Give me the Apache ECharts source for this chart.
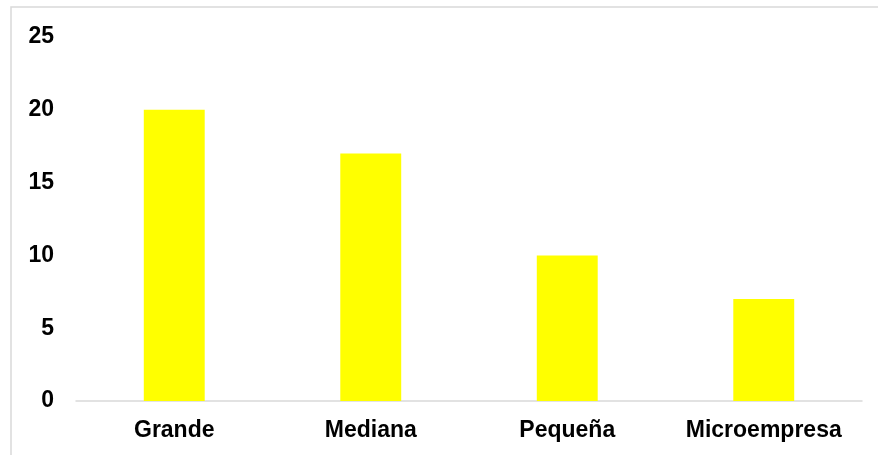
<!DOCTYPE html>
<html>
<head>
<meta charset="utf-8">
<script src="https://cdn.jsdelivr.net/npm/echarts@6/dist/echarts.min.js"></script>
<style>
  html, body { margin: 0; padding: 0; background: #fff; }
  #chart { width: 878px; height: 455px; }
</style>
</head>
<body>
<div id="chart"></div>
<script>
// Company size categories and their counts
const categories = ['Grande', 'Mediana', 'Pequeña', 'Microempresa'];
const counts = [20, 17, 10, 7];
const yTicks = { min: 0, max: 25, interval: 5 };

const chart = echarts.init(document.getElementById('chart'), null, { renderer: 'canvas' });
const font = '"Liberation Sans", Arial, sans-serif';

chart.setOption({
  animation: false,
  backgroundColor: '#ffffff',
  graphic: [{
    type: 'rect',
    shape: { x: 11, y: 7, width: 900, height: 500 },
    style: { fill: 'none', stroke: '#d9d9d9', lineWidth: 1.5 },
    silent: true
  }],
  grid: { left: 76, right: 16, top: 37, bottom: 54, containLabel: false },
  xAxis: {
    type: 'category',
    data: categories,
    axisLine: { show: true, lineStyle: { color: '#d9d9d9', width: 1.5 } },
    axisTick: { show: false },
    axisLabel: {
      interval: 0,
      hideOverlap: false,
      color: '#000', fontFamily: font, fontWeight: 'bold', fontSize: 23, margin: 18
    }
  },
  yAxis: {
    type: 'value',
    min: yTicks.min,
    max: yTicks.max,
    interval: yTicks.interval,
    axisLine: { show: false },
    axisTick: { show: false },
    splitLine: { show: false },
    axisLabel: { color: '#000', fontFamily: font, fontWeight: 'bold', fontSize: 23, margin: 22 }
  },
  series: [{
    type: 'bar',
    data: counts,
    barWidth: '31%',
    itemStyle: { color: '#ffff00' }
  }]
});
</script>
</body>
</html>
